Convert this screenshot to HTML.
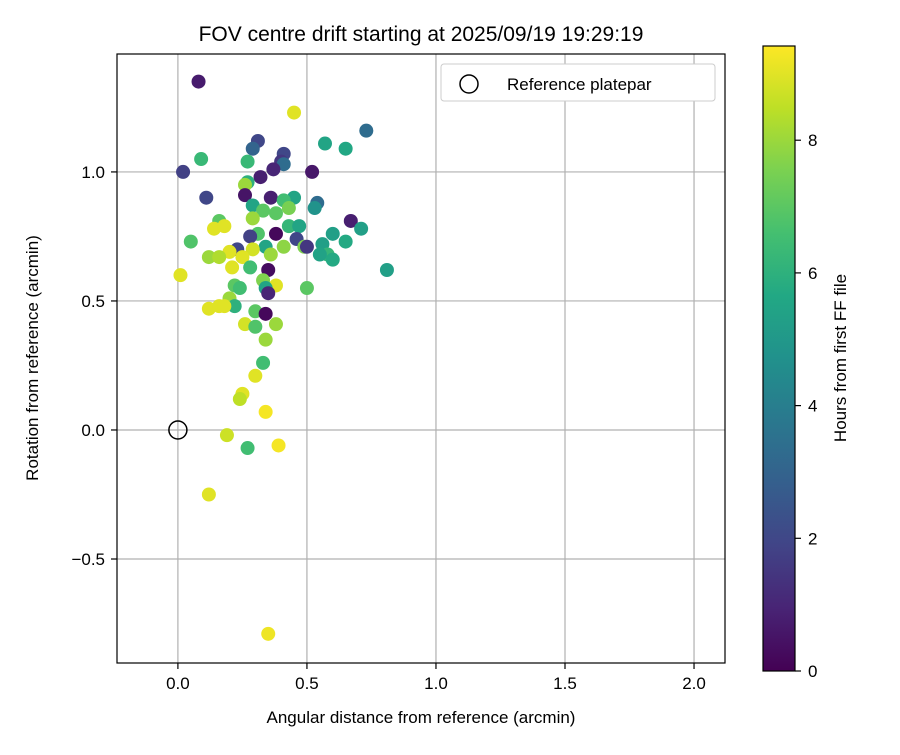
<!DOCTYPE html>
<html><head><meta charset="utf-8"><style>
body{margin:0;background:#fff;}
svg text{font-family:"Liberation Sans","DejaVu Sans",sans-serif;fill:#000;}
</style></head><body>
<svg id="chart" width="900" height="750" xmlns="http://www.w3.org/2000/svg">
<defs>
<linearGradient id="vir" x1="0" y1="1" x2="0" y2="0">
<stop offset="0" stop-color="#440154"/><stop offset="0.1" stop-color="#482475"/><stop offset="0.2" stop-color="#414487"/><stop offset="0.3" stop-color="#355f8d"/><stop offset="0.4" stop-color="#2a788e"/><stop offset="0.5" stop-color="#21918c"/><stop offset="0.6" stop-color="#22a884"/><stop offset="0.7" stop-color="#44bf70"/><stop offset="0.8" stop-color="#7ad151"/><stop offset="0.9" stop-color="#bddf26"/><stop offset="1" stop-color="#fde725"/>
</linearGradient>
<clipPath id="clip"><rect x="117" y="54" width="608" height="609"/></clipPath>
</defs>
<text x="421" y="41" font-size="21" text-anchor="middle">FOV centre drift starting at 2025/09/19 19:29:19</text>
<g id="grid"></g>
<g id="pts" clip-path="url(#clip)"></g>
<rect x="117" y="54" width="608" height="609" fill="none" stroke="#000" stroke-width="1.2"/>
<g id="ticks"></g>
<text x="421" y="723" font-size="17" text-anchor="middle">Angular distance from reference (arcmin)</text>
<text x="38" y="358" font-size="17" text-anchor="middle" transform="rotate(-90 38 358)">Rotation from reference (arcmin)</text>
<g>
<rect x="441" y="64" width="274" height="37" rx="3" fill="#fff" stroke="#ccc" stroke-width="1"/>
<circle cx="469" cy="84" r="9" fill="none" stroke="#000" stroke-width="1.5"/>
<text x="507" y="90" font-size="17">Reference platepar</text>
</g>
<rect x="763" y="46" width="32" height="625" fill="url(#vir)" stroke="#000" stroke-width="1.2"/>
<g id="cbticks"></g>
<text x="846" y="358" font-size="17" text-anchor="middle" transform="rotate(-90 846 358)">Hours from first FF file</text>
</svg>
<script>
const xs=[0.08,0.45,0.73,0.57,0.65,0.31,0.29,0.41,0.40,0.41,0.09,0.27,0.02,0.37,0.32,0.52,0.11,0.27,0.26,0.26,0.36,0.45,0.41,0.29,0.33,0.38,0.43,0.54,0.53,0.29,0.67,0.71,0.16,0.14,0.18,0.05,0.31,0.38,0.43,0.47,0.28,0.46,0.60,0.65,0.56,0.23,0.34,0.41,0.49,0.50,0.36,0.29,0.20,0.58,0.55,0.60,0.81,0.12,0.16,0.25,0.21,0.28,0.35,0.01,0.50,0.22,0.24,0.33,0.38,0.34,0.35,0.20,0.22,0.12,0.16,0.18,0.30,0.34,0.26,0.30,0.38,0.34,0.33,0.30,0.25,0.24,0.34,0.19,0.27,0.39,0.12,0.35];
const ys=[1.35,1.23,1.16,1.11,1.09,1.12,1.09,1.07,1.04,1.03,1.05,1.04,1.00,1.01,0.98,1.00,0.90,0.96,0.95,0.91,0.90,0.90,0.89,0.87,0.85,0.84,0.86,0.88,0.86,0.82,0.81,0.78,0.81,0.78,0.79,0.73,0.76,0.76,0.79,0.79,0.75,0.74,0.76,0.73,0.72,0.70,0.71,0.71,0.71,0.71,0.68,0.70,0.69,0.68,0.68,0.66,0.62,0.67,0.67,0.67,0.63,0.63,0.62,0.60,0.55,0.56,0.55,0.58,0.56,0.55,0.53,0.51,0.48,0.47,0.48,0.48,0.46,0.45,0.41,0.40,0.41,0.35,0.26,0.21,0.14,0.12,0.07,-0.02,-0.07,-0.06,-0.25,-0.79];
const hours=[0.7,9,3.3,5.5,5.6,2,3,2,1.5,3.3,6.3,6.3,1.8,1,0.8,0.6,2,6,8,0.5,0.8,5.5,6.5,5.5,7,7,7.5,3.3,4.8,8,0.8,5.3,7,9,9,6.8,6.8,0.2,6.2,5.5,1.8,2,5.3,5.7,5.3,2,5.5,7.8,7.6,1.5,8,8.8,9,6.2,5.4,5.7,5.3,8,8.3,9,9,6.5,0.3,9,7,7,6.5,7.6,9,5.5,1,8,6,9,9,9,7,0.2,8.8,6.8,8,8,6.5,9,9,8.5,9.3,8.7,6.5,9.3,9,9.2];
const xTicks=[0.0,0.5,1.0,1.5,2.0];
const yTicks=[-0.5,0.0,0.5,1.0];
const cTicks=[0,2,4,6,8];
const X0=-0.236,X1=2.12,Y0=-0.903,Y1=1.457,HMAX=9.42;
const sx=v=>117+(v-X0)/(X1-X0)*608;
const sy=v=>663-(v-Y0)/(Y1-Y0)*609;
const sc=h=>671-h/HMAX*625;
const NS="http://www.w3.org/2000/svg";
const vir=[[68,1,84],[72,36,117],[65,68,135],[53,95,141],[42,120,142],[33,145,140],[34,168,132],[68,191,112],[122,209,81],[189,223,38],[253,231,37]];
function cmap(h){let t=Math.max(0,Math.min(1,h/HMAX))*10,i=Math.min(9,Math.floor(t)),f=t-i;const a=vir[i],b=vir[i+1];return `rgb(${a.map((v,k)=>Math.round(v+(b[k]-v)*f)).join(',')})`;}
function mk(tag,attrs,parent){const e=document.createElementNS(NS,tag);for(const k in attrs)e.setAttribute(k,attrs[k]);parent.appendChild(e);return e;}
const grid=document.getElementById('grid'),ticks=document.getElementById('ticks'),pts=document.getElementById('pts'),cb=document.getElementById('cbticks');
const fmt=v=>(v<0?'\u2212':'')+Math.abs(v).toFixed(1);
xTicks.forEach(v=>{const x=sx(v);
const g=mk('line',{x1:x,x2:x,y1:54,y2:663,stroke:'#b0b0b0','stroke-width':1.2},grid);


mk('line',{x1:x,x2:x,y1:663,y2:669,stroke:'#000','stroke-width':1.2},ticks);
const t=mk('text',{x:x,y:689,'font-size':17,'text-anchor':'middle'},ticks);t.textContent=fmt(v);

});
yTicks.forEach(v=>{const y=sy(v);
const g=mk('line',{x1:117,x2:725,y1:y,y2:y,stroke:'#b0b0b0','stroke-width':1.2},grid);


mk('line',{x1:111,x2:117,y1:y,y2:y,stroke:'#000','stroke-width':1.2},ticks);
const t=mk('text',{x:105,y:y+6,'font-size':17,'text-anchor':'end'},ticks);t.textContent=fmt(v);

});
cTicks.forEach(v=>{const y=sc(v);
mk('line',{x1:795,x2:801,y1:y,y2:y,stroke:'#000','stroke-width':1.2},cb);
const t=mk('text',{x:808,y:y+6,'font-size':17},cb);t.textContent=v;

});
xs.forEach((x,i)=>{const c=mk('circle',{cx:sx(x),cy:sy(ys[i]),r:7,fill:cmap(hours[i])},pts);

});
const ref=mk('circle',{cx:sx(0),cy:sy(0),r:9,fill:'none',stroke:'#000','stroke-width':1.5},pts);


</script>
</body></html>
